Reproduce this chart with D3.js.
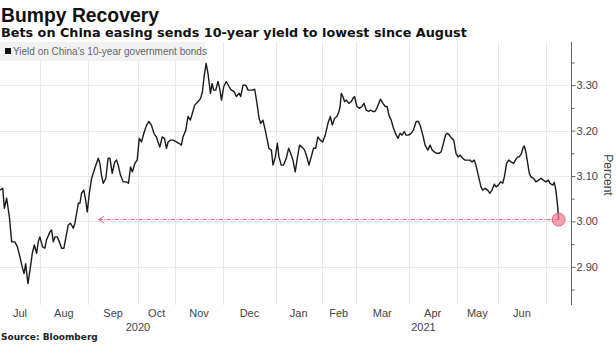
<!DOCTYPE html>
<html><head><meta charset="utf-8">
<script src="https://cdn.jsdelivr.net/npm/d3@7"></script>
<style>body{margin:0;background:#fff}svg{display:block}</style>
</head><body>
<script>
// ---- data ----
const title = "Bumpy Recovery";
const subtitle = "Bets on China easing sends 10-year yield to lowest since August";
const seriesName = "Yield on China's 10-year government bonds";
const source = "Source: Bloomberg";
// position of each reading in trading days from the chart's left edge
const days = [0,1.2,1.9,2.9,4.1,5.1,6.5,7.6,8.7,9.9,10.5,11.2,12.2,13.1,14.1,15.0,16.0,16.7,17.4,18.6,19.6,20.3,21.8,22.5,23.3,24.0,25.0,25.9,26.9,27.9,28.8,29.8,30.8,32.0,32.7,34.2,34.9,35.6,36.6,37.4,38.1,39.0,40.0,41.4,42.9,43.6,44.3,45.1,46.2,47.2,48.0,49.0,50.1,50.9,51.6,52.6,53.8,55.2,56.1,57.0,57.8,58.9,59.9,60.8,61.8,62.8,64.0,65.0,66.1,67.2,68.3,69.0,69.8,70.8,71.8,72.7,73.4,74.4,75.6,77.0,78.1,79.2,79.9,81.1,82.1,83.1,84.0,85.0,86.5,87.6,88.4,89.1,90.0,90.8,91.9,92.6,93.3,94.2,95.2,95.9,96.7,97.7,98.8,100.0,101.0,102.2,103.2,104.4,105.1,106.1,107.3,108.3,109.3,110.2,111.2,112.2,113.1,113.8,114.8,115.8,116.7,117.4,118.5,119.2,120.2,121.1,121.8,122.8,123.8,125.0,126.0,126.9,127.9,128.9,129.8,130.8,132.0,133.0,134.0,134.9,135.9,136.9,137.8,138.8,139.8,140.9,142.0,143.2,144.2,145.1,146.1,147.1,148.0,148.5,149.0,149.7,150.4,151.2,152.3,153.4,154.1,154.8,155.8,157.0,158.0,158.9,159.9,160.9,161.8,162.8,163.7,164.5,165.4,166.1,167.2,168.2,169.0,169.8,170.8,171.8,173.0,173.8,174.7,175.6,176.5,177.3,178.3,179.5,180.5,181.7,182.7,183.6,184.6,185.6,186.8,187.8,188.7,189.7,190.4,191.6,192.6,193.6,194.5,195.3,196.2,197.2,198.1,199.1,200.0,200.9,202.0,203.0,204.2,205.2,206.1,207.1,207.8,208.8,210.0,210.7,211.9,212.9,213.9,214.8,215.8,216.6,217.6,218.5,219.5,220.2,221.2,222.1,223.1,224.3,225.0,226.0,226.7,227.7,228.5,228.9,229.6,230.4,231.1,231.8,233.0,234.0,235.2,236.2,237.2,238.4,239.4,240.1,241.3,242.0,242.7,243.5,243.9];
const yields = [3.069,3.073,3.029,3.051,3.010,2.955,2.955,2.944,2.922,2.896,2.885,2.907,2.863,2.893,2.930,2.948,2.930,2.955,2.966,2.944,2.941,2.959,2.977,2.981,2.955,2.966,2.966,2.955,2.941,2.941,2.966,2.992,2.996,2.985,2.996,3.040,3.040,3.062,3.069,3.047,3.021,3.062,3.095,3.117,3.139,3.128,3.102,3.084,3.095,3.139,3.139,3.106,3.131,3.135,3.124,3.102,3.087,3.087,3.084,3.120,3.109,3.128,3.135,3.183,3.175,3.194,3.212,3.220,3.212,3.194,3.186,3.175,3.164,3.186,3.183,3.161,3.175,3.179,3.179,3.175,3.172,3.168,3.186,3.201,3.231,3.223,3.238,3.256,3.264,3.271,3.286,3.319,3.348,3.326,3.282,3.304,3.289,3.289,3.308,3.293,3.267,3.297,3.308,3.297,3.289,3.286,3.275,3.282,3.275,3.300,3.300,3.289,3.289,3.289,3.291,3.260,3.227,3.216,3.223,3.201,3.179,3.161,3.157,3.124,3.142,3.172,3.142,3.124,3.124,3.139,3.161,3.150,3.135,3.109,3.139,3.168,3.163,3.157,3.142,3.124,3.142,3.161,3.161,3.186,3.179,3.175,3.190,3.216,3.231,3.212,3.227,3.231,3.242,3.253,3.282,3.275,3.264,3.267,3.260,3.264,3.271,3.275,3.253,3.249,3.253,3.260,3.245,3.242,3.245,3.242,3.242,3.249,3.260,3.269,3.260,3.253,3.253,3.234,3.223,3.205,3.190,3.183,3.194,3.190,3.198,3.190,3.190,3.194,3.201,3.220,3.220,3.209,3.190,3.168,3.157,3.168,3.157,3.153,3.150,3.150,3.153,3.172,3.190,3.194,3.190,3.183,3.179,3.150,3.142,3.146,3.139,3.135,3.135,3.135,3.131,3.135,3.124,3.102,3.076,3.069,3.073,3.069,3.062,3.069,3.082,3.076,3.080,3.087,3.084,3.098,3.128,3.135,3.131,3.128,3.135,3.142,3.142,3.150,3.164,3.166,3.153,3.128,3.106,3.098,3.095,3.087,3.091,3.095,3.091,3.087,3.091,3.084,3.080,3.086,3.069,3.032,3.004];
// month boundaries (trading-day position where each month starts)
const monthLabels = ["Jul","Aug","Sep","Oct","Nov","Dec","Jan","Feb","Mar","Apr","May","Jun","Jul"];
const monthStarts = [0,17.4,38.4,60.4,76.4,97.4,120.4,140.4,155.4,178.4,199.4,217.4,238.4];
const yearLabels = ["2020","2021"];
const yearStarts = [0,120.4];
const yTicks = [2.90,3.00,3.10,3.20,3.30];
const yMinorTicks = [2.85,2.95,3.05,3.15,3.25,3.35];
const dayEnd = 249.3;
const yDomain = [2.816,3.395];
const lowestValue = 3.004;  // highlighted latest value
const arrowFromDay = 43.0;   // where the reference line's arrow points (mid-Aug)

// ---- layout ----
const W = 616, H = 345;
const plot = {left:0, right:571, top:42, bottom:305};
const svg = d3.select("body").append("svg").attr("width",W).attr("height",H);

const x = d3.scaleLinear().domain([0,dayEnd]).range([plot.left,plot.right]);
const y = d3.scaleLinear().domain(yDomain).range([plot.bottom,plot.top]);

// grid
const grid = svg.append("g").attr("stroke","#e9e9e9").attr("stroke-width",1);
grid.selectAll("line.h").data(yTicks).join("line").attr("class","h")
  .attr("x1",plot.left).attr("x2",plot.right)
  .attr("y1",d=>Math.round(y(d))+0.5).attr("y2",d=>Math.round(y(d))+0.5);
grid.selectAll("line.v").data(monthStarts.slice(1)).join("line").attr("class","v")
  .attr("x1",d=>Math.round(x(d))+0.5).attr("x2",d=>Math.round(x(d))+0.5)
  .attr("y1",plot.top).attr("y2",plot.bottom);

// legend
svg.append("rect").attr("x",0).attr("y",42).attr("width",205).attr("height",19).attr("fill","#f2f2f2");
svg.append("rect").attr("x",5).attr("y",48).attr("width",6).attr("height",6).attr("fill","#111");
svg.append("text").attr("x",13).attr("y",55).text(seriesName)
  .attr("font-family","Liberation Sans, Arial, sans-serif").attr("font-size",10).attr("fill","#666");

// right axis
const axis = d3.axisRight(y).tickValues(yTicks).tickSize(4).tickFormat(d3.format(".2f"));
const ag = svg.append("g").attr("transform",`translate(${plot.right+0.5},0)`).call(axis);
ag.select(".domain").attr("stroke","#666").attr("d",`M0,${plot.top}V${plot.bottom}`);
ag.selectAll(".tick line").attr("stroke","#666");
ag.selectAll(".tick text").attr("x",5).attr("fill","#444")
  .attr("font-family","Liberation Sans, Arial, sans-serif").attr("font-size",11);
const minor = d3.axisRight(y).tickValues(yMinorTicks).tickSize(3).tickFormat("");
const mg = svg.append("g").attr("transform",`translate(${plot.right+0.5},0)`).call(minor);
mg.select(".domain").remove();
mg.selectAll(".tick line").attr("stroke","#666");

svg.append("text").attr("transform","translate(604,175) rotate(90)")
  .attr("text-anchor","middle").attr("font-family","Liberation Sans, Arial, sans-serif")
  .attr("font-size",12).attr("fill","#444").text("Percent");

// x labels
const monthMid = monthLabels.slice(0,-1).map((m,i)=>({m, c:(monthStarts[i]+monthStarts[i+1])/2}));
svg.append("g").selectAll("text").data(monthMid).join("text")
  .attr("x",d=>x(d.c)).attr("y",317).attr("text-anchor","middle")
  .attr("font-family","Liberation Sans, Arial, sans-serif").attr("font-size",11).attr("fill","#444")
  .text(d=>d.m);
const yearEnds = [yearStarts[1], dayEnd];
svg.append("g").selectAll("text").data(yearLabels).join("text")
  .attr("x",(d,i)=>x((yearStarts[i]+yearEnds[i])/2)).attr("y",331).attr("text-anchor","middle")
  .attr("font-family","Liberation Sans, Arial, sans-serif").attr("font-size",11).attr("fill","#444")
  .text(d=>d);

// annotation line with arrow
const red = "#ec5a76";
svg.append("defs").append("marker").attr("id","arr").attr("viewBox","0 0 10 10")
  .attr("refX",9).attr("refY",5).attr("markerWidth",8).attr("markerHeight",8)
  .attr("markerUnits","userSpaceOnUse").attr("orient","auto")
  .append("path").attr("d","M2,1L9,5L2,9").attr("fill","none").attr("stroke",red).attr("stroke-width",1.2);
svg.append("line").attr("x1",x(days[days.length-1])).attr("x2",x(arrowFromDay))
  .attr("y1",y(lowestValue)).attr("y2",y(lowestValue))
  .attr("stroke",red).attr("stroke-width",1).attr("stroke-dasharray","4,1.5,1,1.5")
  .attr("marker-end","url(#arr)");

// series line
const pts = days.map((d,i)=>[d,yields[i]]);
svg.append("path").datum(pts)
  .attr("d",d3.line().x(d=>x(d[0])).y(d=>y(d[1])))
  .attr("fill","none").attr("stroke","#1a1a1a").attr("stroke-width",1.4).attr("stroke-linejoin","round");

// highlight circle
svg.append("circle").attr("cx",x(days[days.length-1])).attr("cy",y(lowestValue)).attr("r",6.5)
  .attr("fill","#f07a8e").attr("fill-opacity",0.7).attr("stroke","#e8536c").attr("stroke-width",0.8);

// titles
const tt = svg.append("text").attr("x",1).attr("y",22).text(title)
  .attr("font-family","Liberation Sans, Arial, sans-serif").attr("font-weight","bold").attr("font-size",20).attr("fill","#111");
tt.attr("font-size", 20*158/tt.node().getComputedTextLength());
const st = svg.append("text").attr("x",1).attr("y",37).text(subtitle)
  .attr("font-family","DejaVu Sans, sans-serif").attr("font-weight","bold").attr("font-size",13).attr("fill","#111");
st.attr("font-size", 13*466/st.node().getComputedTextLength());
svg.append("text").attr("x",1).attr("y",340).text(source)
  .attr("font-family","DejaVu Sans, sans-serif").attr("font-weight","bold").attr("font-size",9).attr("fill","#222");
</script>
</body></html>
